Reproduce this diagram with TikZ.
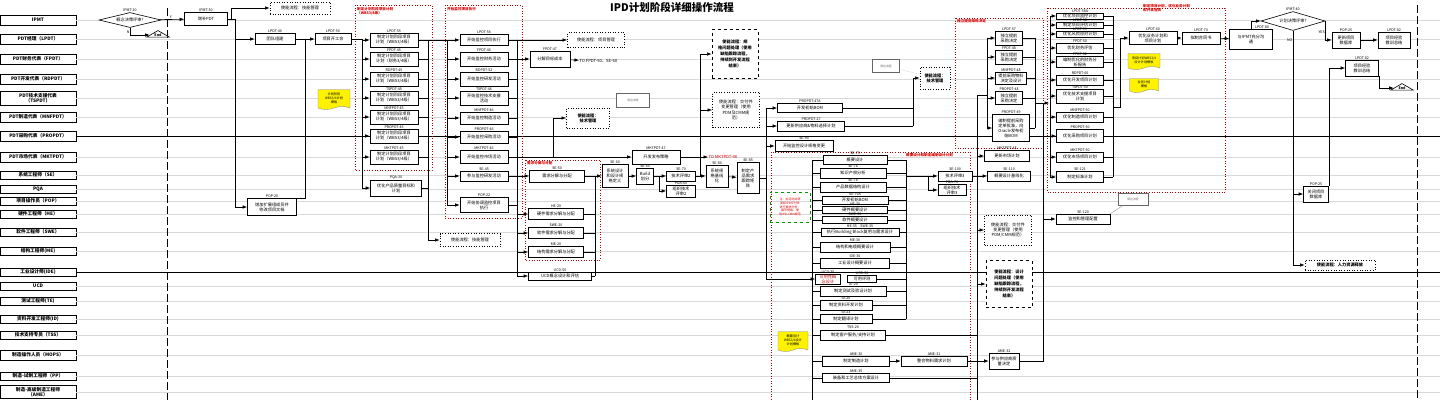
\documentclass[tikz,border=0pt]{standalone}
\usepackage{fontspec}
\setmainfont{Noto Sans CJK SC}
\usepackage{xcolor}
\usetikzlibrary{shapes.geometric, shapes.symbols, arrows.meta, positioning, calc}
\newcommand{\fb}{\fontsize{4.2}{5}\selectfont}
\newcommand{\fl}{\fontsize{3.6}{4}\selectfont}
\begin{document}
\begin{tikzpicture}[x=1pt, y=-1pt, pid/.style={label={[lbl]above:#1}}]
    % Styles
    \tikzstyle{lane} = [rectangle, draw, line width=0.9pt, minimum width=76, minimum height=10, inner sep=0pt, align=center, font=\fontsize{4.7}{5.4}\selectfont\bfseries]
    \tikzstyle{block} = [rectangle, draw, fill=white, line width=0.6pt, inner sep=0.3pt, align=center, font=\fb]
    \tikzstyle{enable} = [block, dotted, line width=0.9pt, font=\fontsize{4.2}{5.2}\selectfont]
    \tikzstyle{enablex} = [block, dashed, line width=1pt, font=\fontsize{4.2}{5.8}\selectfont\bfseries]
    \tikzstyle{grp} = [draw=red!70!black, dotted, line width=0.6pt]
    \tikzstyle{gtitle} = [font=\fl\bfseries, text=red!85!black, anchor=north west, inner sep=1pt, align=left]
    \tikzstyle{lbl} = [font=\fl, inner sep=0.3pt]
    \tikzstyle{memo} = [tape, tape bend top=none, tape bend height=3pt, fill=yellow, draw=black!50, line width=0.3pt, align=center, font=\fontsize{3.2}{3.8}\selectfont, inner sep=0.5pt]
    \tikzstyle{refbox} = [rectangle, draw=black!60, fill=white, line width=0.3pt, font=\fontsize{2.8}{3}\selectfont, text=black!60]
    \tikzstyle{decision} = [diamond, draw, fill=white, aspect=3.5, inner sep=0pt, font=\fb, line width=0.6pt]
    \tikzstyle{stop} = [isosceles triangle, shape border rotate=90, isosceles triangle apex angle=120, draw, fill=white, line width=0.6pt, inner sep=0.6pt, font=\fl\bfseries]
    \tikzstyle{line} = [draw, -{Latex[length=4.5pt,width=3.5pt]}, line width=0.6pt]
    \tikzstyle{wire} = [draw, line width=0.6pt]
    \tikzstyle{laneline} = [draw=black!15, line width=0.5pt]
    \useasboundingbox (0,0) rectangle (1447,400);

    % Lanes
    \node [lane] (ipmt) at (38,20) {IPMT};
    \node [lane] (lpdt) at (38,39) {PDT经理（LPDT）};
    \node [lane] (fpdt) at (38,59) {PDT财务代表（FPDT）};
    \node [lane] (rdpdt) at (38,79) {PDT开发代表（RDPDT）};
    \node [lane, minimum height=14] (tspdt) at (38,98) {PDT技术支援代表\\（TSPDT）};
    \node [lane] (mnfpdt) at (38,117) {PDT制造代表（MNFPDT）};
    \node [lane] (propdt) at (38,136) {PDT采购代表（PROPDT）};
    \node [lane] (mktpdt) at (38,157) {PDT市场代表（MKTPDT）};
    \node [lane, minimum height=8] (se) at (38,175) {系统工程师（SE）};
    \node [lane, minimum height=8] (pqa) at (38,189) {PQA};
    \node [lane, minimum height=8] (pop) at (38,201) {项目操作员（POP）};
    \node [lane, minimum height=8] (he) at (38,214) {硬件工程师（HE）};
    \node [lane, minimum height=8] (swe) at (38,232) {软件工程师（SWE）};
    \node [lane, minimum height=8] (me) at (38,251) {结构工程师(ME)};
    \node [lane, minimum height=8] (ide) at (38,272) {工业设计师(IDE)};
    \node [lane, minimum height=8] (ucd) at (38,286) {UCD};
    \node [lane, minimum height=8] (te) at (38,301) {测试工程师(TE)};
    \node [lane, minimum height=8] (id) at (38,319) {资料开发工程师(ID)};
    \node [lane, minimum height=8] (tss) at (38,335) {技术支持专员（TSS）};
    \node [lane] (mops) at (38,355) {制造操作人员（MOPS）};
    \node [lane, minimum height=8] (pp) at (38,376) {制造-试制工程师（PP）};
    \node [lane, minimum height=13] (ame) at (38,392) {制造-高级制造工程师\\（AME）};
    \foreach \n in {ipmt,lpdt,fpdt,rdpdt,tspdt,mnfpdt,mktpdt,se,pqa,pop,he,swe,me,ucd,te,id,tss,mops,pp,ame}
        \draw [laneline] (\n.east) -- ++(1364,0);
    \draw [line width=0.6pt] (propdt.east) -- ++(1364,0);
    \draw [line width=0.6pt] (ide.east) -- ++(1364,0);
    \draw [dashed, line width=0.8pt, dash pattern=on 8pt off 3pt] (167,8) -- (167,400);
    \draw [dashed, line width=0.8pt, dash pattern=on 8pt off 3pt] (1417,5) -- (1417,400);
    \node [font=\fontsize{10.5}{12}\selectfont\bfseries] (title) at (672,7) {IPD计划阶段详细操作流程};

    % Groups
    \draw [grp] (355,5) rectangle (432,170);
    \draw [grp] (445,5) rectangle (522,218);
    \draw [grp] (525,160) rectangle (600,260);
    \draw [grp] (771,152) rectangle (970,404);
    \draw [grp] (955,18) rectangle (1043,148);
    \draw [grp] (1047,8) rectangle (1225,192);
    \node [gtitle] (t1) at (356,6) {制定计划阶段项目计划\\（WBS3/4级）};
    \node [gtitle] (t2) at (446,6) {开始监控项目执行};
    \node [gtitle] (t3) at (526,160) {需求分解与分配};
    \node [gtitle] (t4) at (905,152) {概要设计和制定编制设计计划};
    \node [gtitle] (t5) at (956,18) {独立提前采购决定};
    \node [gtitle] (t6) at (1142,3) {制定项目计划，优化业务计划\\和开发合同};

    % Nodes: concept to kickoff
    \node [decision, minimum width=62, minimum height=15, pid=IPMT-20] (ipmt20) at (130,20) {概念决策评审?};
    \node [stop] (end1) at (158,35) {End};
    \node [block, minimum width=43, minimum height=13, pid=IPMT-30] (pdt30) at (206,19) {增补PDT};
    \node [enable, minimum width=60, minimum height=12] (en1) at (300,8) {使能流程：技能管理};
    \node [block, minimum width=40, minimum height=11, pid=LPDT-40] (lpdt40) at (275,39) {团队组建};
    \node [block, minimum width=36, minimum height=11, pid=LPDT-50] (lpdt50) at (333,39) {项目开工会};
    \node [block, minimum width=49, minimum height=17, pid=POP-20] (pop20) at (272,207) {增加扩展组成员并\\修改项目文档};
    \node [memo, minimum width=32, minimum height=20] (note1) at (334,98) {计划阶段\\WBS3/4计划\\模板};

    % Nodes: plan group
    \node [block, minimum width=48, minimum height=14, pid=LPDT-55] (lpdt55) at (394,40) {制定计划阶段项目\\计划（WBS3/4级）};
    \node [block, minimum width=48, minimum height=14, pid=FPDT-45] (fpdt45) at (394,59) {制定计划阶段项目\\计划（财务3/4级）};
    \node [block, minimum width=48, minimum height=14, pid=RDPDT-45] (rdpdt45) at (394,79) {制定计划阶段项目\\计划（WBS3/4级）};
    \node [block, minimum width=48, minimum height=14, pid=TSPDT-45] (tspdt45) at (394,98) {制定计划阶段项目\\计划（WBS3/4级）};
    \node [block, minimum width=48, minimum height=14, pid=MNFPDT-45] (mnfpdt45) at (394,117) {制定计划阶段项目\\计划（WBS3/4级）};
    \node [block, minimum width=48, minimum height=14, pid=PROPDT-45] (propdt45) at (394,136) {制定计划阶段项目\\计划（WBS3/4级）};
    \node [block, minimum width=48, minimum height=14, pid=MKTPDT-45] (mktpdt45) at (394,157) {制定计划阶段项目\\计划（WBS3/4级）};
    \node [block, minimum width=51, minimum height=16, pid=PQA-30] (pqa30) at (396,188) {优化产品质量目标和\\计划};
    \node [enable, minimum width=60, minimum height=13] (en2) at (470,240) {使能流程：技能管理};

    % Nodes: monitor group
    \node [block, minimum width=48, minimum height=11, pid=LPDT-56] (lpdt56) at (484,40) {开始监控项目执行};
    \node [block, minimum width=48, minimum height=14, pid=FPDT-46] (fpdt46) at (484,59) {开始监控财务活动};
    \node [block, minimum width=48, minimum height=14, pid=RDPDT-52] (rdpdt52) at (484,79) {开始监控研发活动};
    \node [block, minimum width=48, minimum height=14, pid=TSPDT-46] (tspdt46) at (484,98) {开始监控技术支援\\活动};
    \node [block, minimum width=48, minimum height=12, pid=MNFPDT-46] (mnfpdt46) at (484,118) {开始监控制造活动};
    \node [block, minimum width=48, minimum height=12, pid=PROPDT-46] (propdt46) at (484,137) {开始监控采购活动};
    \node [block, minimum width=48, minimum height=13, pid=MKTPDT-46] (mktpdt46) at (484,157) {开始监控市场活动};
    \node [block, minimum width=48, minimum height=10, pid=SE-45] (se45) at (484,176) {参与监控研发活动};
    \node [block, minimum width=48, minimum height=15, pid=POP-22] (pop22) at (484,205) {开始协调监控项目\\执行};
    \node [enable, minimum width=57, minimum height=15] (en3) at (596,40) {使能流程：项目管理};
    \node [block, minimum width=40, minimum height=16, pid=FPDT-47] (fpdt47) at (550,59) {分解目标成本};
    \node [lbl, anchor=west, font=\fb] (to1) at (579,61) {TO FPDT-50、SE-60};
    \node [enable, minimum width=43, minimum height=20, font=\fontsize{4.2}{5.2}\selectfont\bfseries] (en4) at (588,118) {使能流程：\\技术管理};
    \node [refbox, minimum width=33, minimum height=14] (ref1) at (633,100) {周边流程};

    % Nodes: requirements and system design
    \node [block, minimum width=55, minimum height=12, pid=SE-50] (se50) at (557,176) {需求分解与分配};
    \node [block, minimum width=55, minimum height=11, pid=HE-20] (he20) at (556,214) {硬件需求分解与分配};
    \node [block, minimum width=55, minimum height=11, pid=SWE-20] (swe20) at (556,233) {软件需求分解与分配};
    \node [block, minimum width=55, minimum height=11, pid=ME-20] (me20) at (556,252) {结构需求分解与分配};
    \node [block, minimum width=63, minimum height=8, pid=UCD-50] (ucd50) at (560,276) {UCD概念设计和评估};
    \node [block, minimum width=48, minimum height=14, pid=MKTPDT-47] (mkt47) at (656,157) {开发发布策略};
    \node [lbl, anchor=west, font=\fb, text=red!85!black] (to2) at (708,157) {TO MKTPDT-48};
    \node [block, minimum width=26, minimum height=23, pid=SE-60] (se60) at (615,176) {系统设计\\和设计规\\格定义};
    \node [block, minimum width=17, minimum height=16, pid=SE-65] (se65) at (645,176) {Build\\划分};
    \node [block, minimum width=29, minimum height=10, pid=SE-70] (se70) at (681,176) {技术评审2};
    \node [block, minimum width=29, minimum height=12, pid=PDA-60] (pda60) at (681,191) {组织技术\\评审2};
    \node [block, minimum width=22, minimum height=22, pid=SE-80] (se80) at (717,176) {系统规\\格基线\\化};
    \node [block, minimum width=22, minimum height=31, pid=SE-85] (se85) at (748,178) {制定产\\品需求\\跟踪矩\\阵};
    \node [enablex, minimum width=46, minimum height=49] (en5) at (735,54) {使能流程：规\\格问题处理（使用\\缺陷跟踪流程，\\持续到开发流程\\结束）};
    \node [enable, minimum width=47, minimum height=35] (en6) at (736,110) {使能流程：交付件\\变更管理（使用\\PDM及CMM规\\范）};
    \node [block, minimum width=65, minimum height=9, pid=PROPDT-47A] (prop47a) at (810,108) {开发初始BOM};
    \node [block, minimum width=67, minimum height=10, pid=PROPDT-27] (prop27) at (811,126) {更新供应商\&物料选择计划};
    \node [block, minimum width=58, minimum height=11, pid=SE-90] (se90) at (804,146) {开始监控设计规格变更};
    \node [enable, minimum width=30, minimum height=22, font=\fontsize{4.2}{5.2}\selectfont\bfseries] (en7) at (935,78) {使能流程：\\技术管理};
    \node [refbox, minimum width=27, minimum height=13] (ref2) at (886,66) {周边流程};

    % Nodes: outline design group
    \node [draw=green!60!black, dashed, line width=0.4pt, align=center, text=red!85!black, font=\fontsize{3}{3.7}\selectfont, minimum width=40, minimum height=30, inner sep=0.5pt] (note2) at (790,207) {注：此活动对研\\发和IPD交付件\\进行需求分析，\\编写规格，使\\用IPD-CMM规范};
    \node [memo, minimum width=30, minimum height=20] (note3) at (793,340) {概要设计\\WBS3/4设计\\计划模板};
    \node [block, minimum width=64, minimum height=9, pid=SE-75] (se75) at (855,160) {概要设计};
    \node [block, minimum width=66, minimum height=10, pid=SE-76] (se76) at (853,173) {知识产权分析};
    \node [block, minimum width=66, minimum height=10, pid=SE-78] (se78) at (853,187) {产品数据结构设计};
    \node [block, minimum width=66, minimum height=8, pid=SE-79A] (se79a) at (855,200) {开发初始BOM};
    \node [block, minimum width=65, minimum height=7, pid=HE-30] (he30) at (855,210) {硬件概要设计};
    \node [block, minimum width=65, minimum height=7, pid=SWE-30] (swe30) at (855,220) {软件概要设计};
    \node [block, minimum width=78, minimum height=8, pid={HE-35\quad SWE-35}] (bb35) at (860,232) {执行Building Block复用与需求设计};
    \node [block, minimum width=70, minimum height=10, pid=ME-30] (me30) at (855,247) {结构和电缆概要设计};
    \node [block, minimum width=69, minimum height=10, pid=IDE-30] (ide30) at (855,263) {工业设计概要设计};
    \node [block, minimum width=25, minimum height=10, text=red!70!black, pid=UCD-35] (ucd35) at (828,279) {可用性概\\念设计};
    \node [block, minimum width=29, minimum height=7, pid=UCD-36] (ucd36) at (862,279) {可用评测};
    \node [block, minimum width=66, minimum height=10, pid=TE-20] (te20) at (853,291) {制定测试及验证计划};
    \node [block, minimum width=52, minimum height=10, pid=ID-20] (id20) at (846,305) {制定资料开发计划};
    \node [block, minimum width=52, minimum height=9, pid=ID-23] (id23) at (846,319) {制定翻译计划};
    \node [block, minimum width=65, minimum height=10, line width=1pt, pid=TSS-20] (tss20) at (853,335) {制定客户服务/支持计划};
    \node [block, minimum width=67, minimum height=10, pid=AME-30] (ame30) at (856,361) {制定制造计划};
    \node [block, minimum width=67, minimum height=9, pid=AME-35] (ame35) at (856,378) {装备和工艺总体方案设计};
    \node [block, minimum width=66, minimum height=10, pid=AME-31] (ame31) at (934,361) {整合物料需求计划};
    \node [block, minimum width=30, minimum height=16, pid=AME-32] (ame32) at (1004,361) {参与供应商质\\量决定};
    \node [block, minimum width=34, minimum height=10, pid=SE-100] (se100) at (955,176) {技术评审3};
    \node [block, minimum width=28, minimum height=11, pid=PDA-70] (pda3) at (952,190) {组织技术\\评审3};
    \node [block, minimum width=45, minimum height=11, pid=MKTPDT-48] (mkt48) at (1007,156) {更新市场计划};
    \node [block, minimum width=43, minimum height=10, pid=SE-110] (se110) at (1009,176) {概要设计基线化};
    \node [enable, minimum width=47, minimum height=30] (en8) at (1008,230) {使能流程：交付件\\变更管理（使用\\PDM/CMM规范）};
    \node [enablex, minimum width=46, minimum height=47] (en9) at (1009,284) {使能流程：设计\\问题处理（使用\\缺陷跟踪流程，\\持续到开发流程\\结束）};

    % Nodes: early purchase group
    \node [block, minimum width=27, minimum height=14, pid=LPDT-57] (lpdt57) at (1009,38) {独立提前\\采购决定};
    \node [block, minimum width=27, minimum height=14, pid=FPDT-48] (fpdt48) at (1009,57) {独立提前\\采购决定};
    \node [block, minimum width=31, minimum height=12, pid=MNFPDT-48] (mnf48) at (1011,78) {提前采购物料\\决定及设计};
    \node [block, minimum width=27, minimum height=13, pid=PROPDT-48] (prop48) at (1009,98) {独立提前\\采购决定};
    \node [block, minimum width=37, minimum height=27, pid=PROPDT-49] (prop49) at (1011,128) {编制提前采购\\定单批准，向\\Oracle发布初\\始BOM};

    % Nodes: optimise group
    \node [block, minimum width=47, minimum height=6, pid=LPDT-58A] (lpdt58a) at (1080,16) {优化项目监控计划};
    \node [block, minimum width=47, minimum height=6, pid=LPDT-58] (lpdt58) at (1080,25) {制定项目评估计划};
    \node [block, minimum width=47, minimum height=6, pid=LPDT-59] (lpdt59) at (1080,34) {优化风险应对计划};
    \node [block, minimum width=47, minimum height=10, pid=FPDT-50] (fpdt50) at (1080,48) {优化财务评估};
    \node [block, minimum width=47, minimum height=11, pid=FPDT-52] (fpdt52) at (1080,62) {编制优化的财务分\\析报告};
    \node [block, minimum width=47, minimum height=10, pid=RDPDT-60] (rdpdt60) at (1080,80) {优化开发项目计划};
    \node [block, minimum width=47, minimum height=14, pid=TSPDT-50] (tspdt50) at (1080,96) {优化技术支援项目\\计划};
    \node [block, minimum width=47, minimum height=10, pid=MNFPDT-50] (mnfpdt50) at (1080,117) {优化制造项目计划};
    \node [block, minimum width=47, minimum height=13, pid=PROPDT-50] (propdt50) at (1080,136) {优化采购项目计划};
    \node [block, minimum width=47, minimum height=10, pid=MKTPDT-50] (mktpdt50) at (1080,157) {优化市场项目计划};
    \node [block, minimum width=47, minimum height=11, pid=SE-121] (se121) at (1080,177) {制定标准计划};
    \node [block, minimum width=54, minimum height=10, pid=SE-120] (se120) at (1083,219) {监控和管理配置};
    \node [refbox, minimum width=30, minimum height=12] (ref3) at (1133,199) {周边流程};

    % Nodes: plan decision
    \node [block, minimum width=48, minimum height=13, pid=LPDT-60] (lpdt60) at (1153,38) {优化业务计划和\\项目计划};
    \node [block, minimum width=38, minimum height=12, pid=LPDT-70] (lpdt70) at (1201,38) {拟制合同书};
    \node [memo, minimum width=32, minimum height=16] (note4) at (1144,60) {项目计划WBS3/4\\设计计划模板};
    \node [memo, minimum width=29, minimum height=14] (note5) at (1144,84) {业务计划\\模板};
    \node [block, minimum width=43, minimum height=20] (comm) at (1251,39) {与IPMT充分沟\\通};
    \node [lbl, anchor=south] (t-comm) at (1262,29) {LPDT-80};
    \node [decision, minimum width=64, minimum height=19, pid=IPMT-40] (ipmt40) at (1293,21) {计划决策评审?};
    \node [block, minimum width=28, minimum height=16, pid=POP-25] (pop25a) at (1346,40) {更新项目\\数据库};
    \node [block, minimum width=32, minimum height=16, pid=LPDT-82] (lpdt82a) at (1394,40) {项目经验\\教训总结};
    \node [block, minimum width=33, minimum height=16, pid=LPDT-82] (lpdt82b) at (1362,68) {项目经验\\教训总结};
    \node [stop] (end2) at (1402,88) {End};
    \node [block, minimum width=25, minimum height=16, pid=POP-25] (pop25b) at (1316,194) {关闭项目\\数据库};
    \node [enable, minimum width=70, minimum height=10, font=\fontsize{4.2}{5.2}\selectfont\bfseries] (en10) at (1340,265) {使能流程：人力资源释放};

    % Coordinates
    \coordinate (b1) at (235,19);
    \coordinate (b2) at (305,39);
    \coordinate (b3) at (362,39);
    \coordinate (b4) at (428,40);
    \coordinate (b5) at (447,40);
    \coordinate (b6) at (517,40);
    \coordinate (b7) at (553,157);
    \coordinate (b8) at (595,176);
    \coordinate (b9) at (659,176);
    \coordinate (b10) at (700,176);
    \coordinate (b11) at (766,108);
    \coordinate (b12) at (913,78);
    \coordinate (b13) at (812,160);
    \coordinate (b13e) at (812,400);
    \coordinate (b14) at (906,160);
    \coordinate (b16) at (928,176);
    \coordinate (b17) at (977,95);
    \coordinate (b17e) at (977,400);
    \coordinate (b18) at (987,38);
    \coordinate (b19) at (1035,38);
    \coordinate (b20) at (1043,103);
    \coordinate (b21) at (1049,103);
    \coordinate (b22) at (1050,16);
    \coordinate (b23) at (1113,16);
    \coordinate (b24) at (1113,107);

    % Paths
    \path [line] (ipmt20) -- node[lbl, above, pos=0.45] {Y} (pdt30);
    \path [line] (ipmt20.south) |- node[lbl, pos=0.3, left] {N} (end1);
    \path [line] (pdt30.east) -- ++(3,0) |- (en1);
    \draw [wire] (pdt30.east) -- (b1) -- (b1 |- pop20);
    \path [line] (b1 |- lpdt40) -- (lpdt40);
    \path [line] (b1 |- pop20) -- (pop20);
    \path [line] (lpdt40) -- (lpdt50);
    \draw [wire] (pop20.north east) -| (b2);
    \draw [wire] (lpdt50) -- (b3) -- (b3 |- pqa30);
    \foreach \n in {lpdt55,fpdt45,rdpdt45,tspdt45,mnfpdt45,propdt45,mktpdt45,pqa30} {
        \path [line] (b3 |- \n) -- (\n);
        \draw [wire] (\n) -- (b4 |- \n);
    }
    \draw [wire] (b4) -- (b4 |- en2);
    \path [line] (b4 |- en2) -- (en2);
    \draw [wire] (b4) -- (b5) -- (b5 |- pop22);
    \foreach \n in {lpdt56,fpdt46,rdpdt52,tspdt46,mnfpdt46,propdt46,mktpdt46,se45,pop22}
        \path [line] (b5 |- \n) -- (\n);
    \foreach \n in {rdpdt52,tspdt46,mnfpdt46,propdt46,se45,pop22}
        \draw [wire] (\n) -- (b6 |- \n);
    \draw [wire] (b6) -- (b6 |- ucd50);
    \path [line] (lpdt56) -- (en3);
    \path [line] (fpdt46) -- (fpdt47);
    \path [line] (fpdt47) -- (to1);
    \path [line] (mktpdt46) -- (mktpdt46 -| mkt47.west);
    \path [line] (b7) |- (en4);
    \foreach \n in {se50,he20,swe20,me20,ucd50}
        \path [line] (b6 |- \n) -- (\n);
    \foreach \n in {he20,swe20,me20,ucd50}
        \draw [wire] (\n) -- (b8 |- \n);
    \draw [wire] (b8) -- (b8 |- ucd50);
    \path [line] (se50) -- (se60);
    \path [line] (se60) -- (se65);
    \draw [wire] (se65) -- (b9);
    \path [line] (b9) -- (se70);
    \path [line] (b9) |- (pda60);
    \path [line] (se70) -- (se80);
    \path [line] (se80) -- (se85);
    \path [line] (b10) |- (en5);
    \path [line] (b10) |- (en6);
    \path [line] (mkt47) -- (to2);
    \draw [wire] (se85) -- (b11 |- se85);
    \draw [wire] (b11) -- (b11 |- ucd35);
    \foreach \n in {prop47a,prop27,se90,ucd35}
        \path [line] (b11 |- \n) -- (\n);
    \draw [wire] (prop47a) -- (b12 |- prop47a);
    \draw [wire] (prop27) -- (b12 |- prop27);
    \draw [wire] (b12) -- (b12 |- prop27);
    \path [line] (b12) -- (en7);
    \draw [black!50, densely dotted, line width=0.3pt] (ref2) -- (en7);
    \draw [wire] (b13) -- (b13e);
    \foreach \n in {se75,se76,se78,se79a,he30,swe30,bb35,me30,ide30,te20,id20,id23,tss20,ame30,ame35}
        \draw [wire] (b13 |- \n) -- (\n);
    \foreach \n in {se75,se76,se78,se79a,he30,swe30,bb35,me30,ide30,ucd36,te20,id20,id23}
        \draw [wire] (\n) -- (b14 |- \n);
    \draw [wire] (b14) -- (b14 |- id23);
    \path [line] (b14 |- se100) -- (se100);
    \path [line] (b16) |- (pda3);
    \path [line] (se100) -- (se110);
    \draw [wire] (b17) -- (b17e);
    \foreach \n in {mkt48,en8,en9}
        \path [line] (b17 |- \n) -- (\n);
    \draw [wire] (tss20) -- (b17 |- tss20);
    \draw [wire] (ame35) -- (b17 |- ame35);
    \path [line] (ame30) -- (ame31);
    \path [line] (ame31) -- (ame32);
    \draw [wire] (b17) -- (b18 |- b17);
    \draw [wire] (b18) -- (b18 |- prop49);
    \foreach \n in {lpdt57,fpdt48,mnf48,prop48,prop49} {
        \path [line] (b18 |- \n) -- (\n);
        \draw [wire] (\n) -- (b19 |- \n);
    }
    \draw [wire] (b19) -- (b19 |- prop49);
    \draw [wire] (ame32) -| (b20);
    \path [line] (b19 |- b20) -- (b21);
    \path [line] (b20 |- se120) -- (se120);
    \draw [wire] (b22) -- (b22 |- se121);
    \draw [wire] (b23) -- (b23 |- se121);
    \foreach \n in {lpdt58a,lpdt58,lpdt59,fpdt50,fpdt52,rdpdt60,tspdt50,mnfpdt50,propdt50,mktpdt50,se121} {
        \path [line] (b22 |- \n) -- (\n);
        \draw [wire] (\n) -- (b23 |- \n);
    }
    \path [line] (b24) -- ++(7,0) |- (lpdt60);
    \draw [black!50, line width=0.3pt] (ref3) -- (se120.north east);
    \path [line] (lpdt60) -- (lpdt70);
    \path [line] (lpdt70) -- (comm);
    \path [line] (comm.north) |- (ipmt40);
    \path [line] (ipmt40.east) |- node[lbl, pos=0.3, left] {YES} (pop25a);
    \path [line] (ipmt40.south) |- node[lbl, pos=0.03, left] {NO} (pop25b);
    \path [line] (ipmt40.south) |- (en10);
    \path [line] (pop25a) -- (lpdt82a);
    \path [line] (pop25b.north east) |- (lpdt82b);
    \path [line] (lpdt82b.south east) |- (end2);
\end{tikzpicture}
\end{document}
